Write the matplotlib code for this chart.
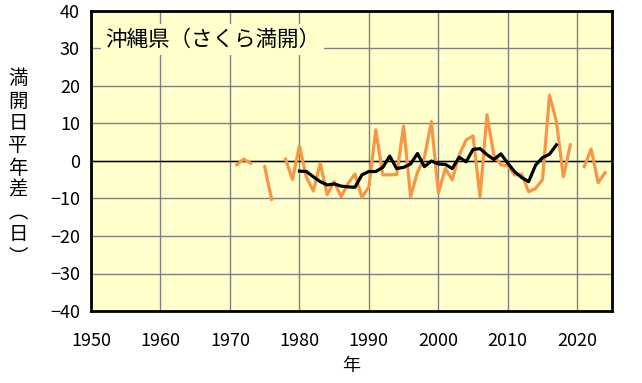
import numpy as np
import matplotlib
matplotlib.use("Agg")
import matplotlib.pyplot as plt

plt.rcParams['font.family'] = ['Noto Sans CJK JP', 'DejaVu Sans']

years = list(range(1971, 2025))
anomaly = [-1, 0.5, -0.6, np.nan, -1.5, -10.2, np.nan, 0.5, -4.9, 4,
           -4.3, -8, -0.6, -9, -5.5, -9.5, -6, -3.5, -9.7, -6.9,
           8.3, -3.7, -3.7, -3.6, 9.3, -9.5, -3, 1, 10.5, -8.6,
           -2, -5, 1.6, 5.6, 6.7, -9.5, 12.3, 1.6, -1, -1.3,
           -3.7, -3.5, -8.2, -7.3, -5, 17.6, 10.5, -4.2, 4.3, np.nan,
           -1.5, 3.2, -5.8, -3.1]

ma_years = list(range(1980, 2018))
moving_avg = [-2.7, -2.8, -4.2, -5.5, -6.4, -6.1, -6.7, -6.9, -7, -3.7,
              -2.8, -2.8, -1.7, 1.3, -2, -1.7, -0.8, 2, -1.5, 0,
              -0.8, -0.9, -2, 1, -0.2, 3.1, 3.3, 1.7, 0.4, 1.9,
              -0.6, -2.9, -4.4, -5.5, -1.1, 0.9, 1.8, 4.3]

xticks = list(range(1950, 2021, 10))
yticks = list(range(-40, 41, 10))

fig = plt.figure(figsize=(6.42, 3.83), dpi=100)
ax = fig.add_axes([91/642, 1-311/383, (612-91)/642, 300/383])
ax.set_facecolor('#FFFFCC')

ax.set_xlim(1950, 2025)
ax.set_ylim(-40, 40)
ax.set_xticks(xticks)
ax.set_yticks(yticks)
ax.grid(True, color='#808080', linewidth=1)
ax.axhline(0, color='black', linewidth=1, zorder=2)
ax.set_axisbelow(True)

ax.plot(years, anomaly, color='#F79646', linewidth=2.3, zorder=3)
ax.plot(ma_years, moving_avg, color='black', linewidth=2.3, zorder=4)

for s in ax.spines.values():
    s.set_linewidth(2)
    s.set_color('black')
ax.tick_params(length=0, labelsize=13, pad=8)
ax.tick_params(axis='x', pad=15)

ax.text(0.027, 0.905, '沖縄県（さくら満開）', transform=ax.transAxes,
        fontsize=15.5, va='center', ha='left', zorder=5,
        bbox=dict(facecolor='#FFFFCC', edgecolor='none', pad=3))

ax.set_xlabel('年', fontsize=13, labelpad=5)
fig.text(18/642, 1-168/383, '\n'.join('満開日平年差︵日︶'), fontsize=14,
         ha='center', va='center', linespacing=1.08)

fig.savefig('out.png', dpi=100)
